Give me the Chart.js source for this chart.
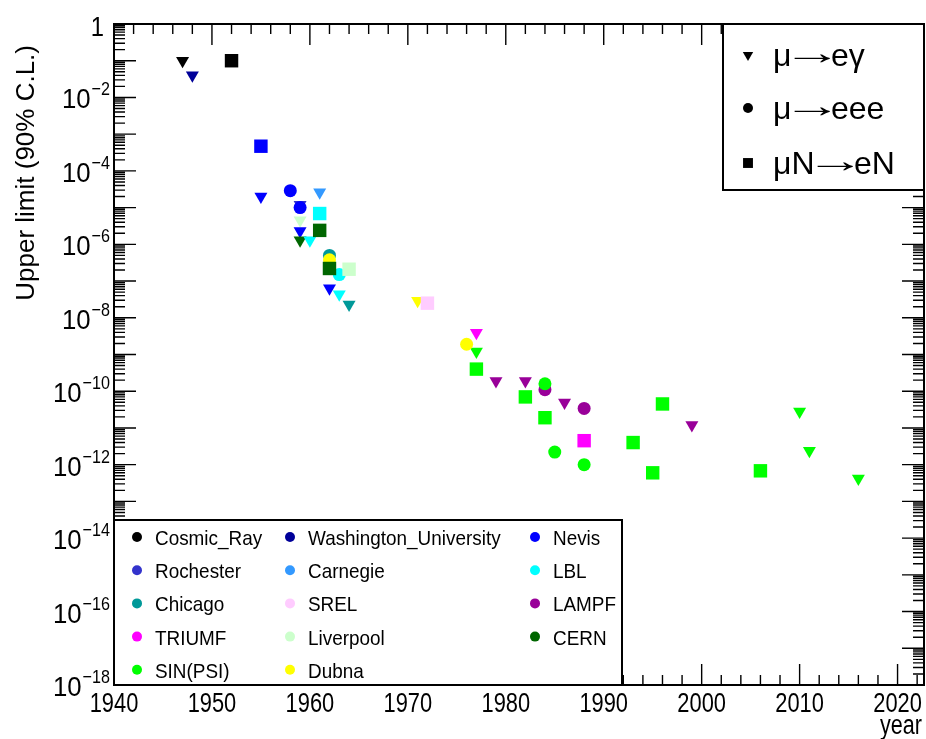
<!DOCTYPE html>
<html>
<head>
<meta charset="utf-8">
<title>Charged lepton flavour violation limits</title>
<script src="https://cdn.jsdelivr.net/npm/chart.js@4.4.1/dist/chart.umd.min.js"></script>
<style>
    html, body { margin: 0; padding: 0; background: #fff; }
    #wrap { width: 926px; height: 739px; position: relative; }
</style>
</head>
<body>
<div id="wrap"><canvas id="chart"></canvas></div>
<script>
// --- Labs (legend order, row by row) ---
const labNames = ['Cosmic_Ray', 'Washington_University', 'Nevis',
                  'Rochester', 'Carnegie', 'LBL',
                  'Chicago', 'SREL', 'LAMPF',
                  'TRIUMF', 'Liverpool', 'CERN',
                  'SIN(PSI)', 'Dubna'];
const labColors = ['#000000', '#000099', '#0000ff',
                   '#3333cc', '#3399ff', '#00ffff',
                   '#009999', '#ffccff', '#990099',
                   '#ff00ff', '#ccffcc', '#006600',
                   '#00ff00', '#ffff00'];

// --- mu -> e gamma (down triangles) ---
const megYears  = [1947, 1948, 1955, 1959, 1959, 1959, 1959, 1960, 1961, 1962, 1963, 1964,
                   1971, 1977, 1977, 1979, 1982, 1986, 1999, 2010, 2011, 2016];
const megLimits = [1.0e-1, 4.0e-2, 2.0e-5, 1.2e-5, 4.5e-6, 2.3e-6, 1.3e-6, 1.3e-6, 2.6e-5, 6.4e-8, 4.4e-8, 2.3e-8,
                   2.9e-8, 3.9e-9, 1.2e-9, 1.9e-10, 1.9e-10, 4.9e-11, 1.2e-11, 2.8e-11, 2.4e-12, 4.2e-13];
const megLabs   = ['Cosmic_Ray', 'Washington_University', 'Nevis', 'Rochester', 'Liverpool', 'Nevis', 'CERN', 'LBL', 'Carnegie', 'Nevis', 'LBL', 'Chicago',
                   'Dubna', 'TRIUMF', 'SIN(PSI)', 'LAMPF', 'LAMPF', 'LAMPF', 'LAMPF', 'SIN(PSI)', 'SIN(PSI)', 'SIN(PSI)'];

// --- mu -> eee (circles) ---
const eeeYears  = [1958, 1959, 1962, 1962, 1963, 1976, 1984, 1984, 1985, 1988, 1988];
const eeeLimits = [2.9e-5, 1.0e-5, 5.0e-7, 3.8e-7, 1.5e-7, 1.9e-9, 1.1e-10, 1.6e-10, 2.2e-12, 3.4e-11, 1.0e-12];
const eeeLabs   = ['Nevis', 'Nevis', 'Chicago', 'Dubna', 'LBL', 'Dubna', 'LAMPF', 'SIN(PSI)', 'SIN(PSI)', 'LAMPF', 'SIN(PSI)'];

// --- mu N -> e N (squares) ---
const convYears  = [1952, 1955, 1961, 1961, 1962, 1964, 1972, 1977, 1982, 1984, 1988, 1993, 1995, 1996, 2006];
const convLimits = [1.0e-1, 4.7e-4, 6.9e-6, 2.4e-6, 2.2e-7, 2.1e-7, 2.5e-8, 4.0e-10, 7.0e-11, 1.9e-11, 4.5e-12, 4.0e-12, 6.0e-13, 4.5e-11, 6.8e-13];
const convLabs   = ['Cosmic_Ray', 'Nevis', 'LBL', 'CERN', 'CERN', 'Liverpool', 'SREL', 'SIN(PSI)', 'SIN(PSI)', 'SIN(PSI)', 'TRIUMF', 'SIN(PSI)', 'SIN(PSI)', 'SIN(PSI)', 'SIN(PSI)'];

// --- axes ---
const xTickYears = [1940, 1950, 1960, 1970, 1980, 1990, 2000, 2010, 2020];
const yLabelExps = [0, -2, -4, -6, -8, -10, -12, -14, -16, -18];
// process legend, split so the arrow can be stretched like ROOT's #rightarrow
const processLabels = [['\u03bc', '\u2192', 'e\u03b3'], ['\u03bc', '\u2192', 'eee'], ['\u03bcN', '\u2192', 'eN']];

const FONT = '"Liberation Sans", Arial, Helvetica, sans-serif';

function toPoints(xs, ys) {
    return xs.map((x, i) => ({ x: x, y: ys[i] }));
}
function toColors(labs) {
    return labs.map(l => labColors[labNames.indexOf(l)]);
}

// text squeezed horizontally, like the ROOT output
function condText(ctx, txt, x, y, size, align, sx) {
    ctx.save();
    ctx.translate(x, y);
    ctx.scale(sx, 1);
    ctx.font = size + 'px ' + FONT;
    ctx.textAlign = align;
    ctx.textBaseline = 'alphabetic';
    ctx.fillStyle = '#000';
    ctx.fillText(txt, 0, 0);
    ctx.restore();
}
function textWidth(ctx, txt, size, sx) {
    ctx.save();
    ctx.font = size + 'px ' + FONT;
    const w = ctx.measureText(txt).width * sx;
    ctx.restore();
    return w;
}
function marker(ctx, style, r, rot, x, y, color) {
    ctx.save();
    ctx.fillStyle = color;
    Chart.helpers.drawPoint(ctx, { pointStyle: style, radius: r, rotation: rot, borderWidth: 0 }, x, y);
    ctx.restore();
}

const rootFrame = {
    id: 'rootFrame',
    beforeDatasetsDraw(chart) {
        const { ctx, chartArea: a, scales: { x, y } } = chart;
        ctx.save();
        ctx.strokeStyle = '#000';
        ctx.lineWidth = 1.4;
        ctx.beginPath();
        // year ticks, every 2 years
        for (let yr = 1940; yr <= x.max; yr += 2) {
            const px = x.getPixelForValue(yr);
            const len = yr % 10 === 0 ? 21 : 10;
            ctx.moveTo(px, a.top); ctx.lineTo(px, a.top + len);
            ctx.moveTo(px, a.bottom); ctx.lineTo(px, a.bottom - len);
        }
        // log ticks on both sides
        for (let e = -18; e < 0; e++) {
            for (let m = 1; m < 10; m++) {
                const py = y.getPixelForValue(m * Math.pow(10, e));
                const len = m === 1 ? 22 : 11;
                ctx.moveTo(a.left, py); ctx.lineTo(a.left + len, py);
                ctx.moveTo(a.right, py); ctx.lineTo(a.right - len, py);
            }
        }
        ctx.stroke();
        ctx.lineWidth = 2;
        ctx.strokeRect(a.left, a.top, a.right - a.left, a.bottom - a.top);
        ctx.restore();
    },
    afterDatasetsDraw(chart) {
        const { ctx, chartArea: a, scales: { x, y } } = chart;
        ctx.save();
        ctx.lineWidth = 2;
        ctx.strokeStyle = '#000';

        // process legend (top right)
        const pw = 201, ph = 166;
        const pl = a.right - pw, pt = a.top;
        ctx.fillStyle = '#fff';
        ctx.fillRect(pl, pt, pw, ph);
        ctx.strokeRect(pl, pt, pw, ph);
        const pRows = [31, 84, 139];
        marker(ctx, 'triangle', 6, 180, pl + 25, pt + pRows[0], '#000');
        marker(ctx, 'circle', 5, 0, pl + 25, pt + pRows[1], '#000');
        marker(ctx, 'rect', 7, 0, pl + 25, pt + pRows[2], '#000');
        processLabels.forEach((parts, i) => {
            const by = pt + pRows[i] + 11;
            let tx = pl + 50;
            condText(ctx, parts[0], tx, by, 32, 'left', 1);
            tx += textWidth(ctx, parts[0], 32, 1);
            // arrow glyph has wide side bearings: pull it in
            condText(ctx, parts[1], tx - 9, by - 2, 34, 'left', 1.75);
            tx += textWidth(ctx, parts[1], 34, 1.75) - 20;
            condText(ctx, parts[2], tx, by, 32, 'left', 1);
        });

        // lab legend (bottom left)
        const lw = 508, lh = 165;
        const ll = a.left, lt = a.bottom - lh;
        ctx.fillStyle = '#fff';
        ctx.fillRect(ll, lt, lw, lh);
        ctx.strokeRect(ll, lt, lw, lh);
        const colX = [23, 176, 421];
        labNames.forEach((name, i) => {
            const cx = ll + colX[i % 3];
            const cy = lt + 17 + Math.floor(i / 3) * 33.2;
            marker(ctx, 'circle', 5, 0, cx, cy, labColors[i]);
            condText(ctx, name, cx + 18, cy + 8, 21, 'left', 0.9);
        });

        // year labels
        xTickYears.forEach(yr => {
            condText(ctx, String(yr), x.getPixelForValue(yr), a.bottom + 27, 28, 'center', 0.78);
        });
        condText(ctx, 'year', a.right - 2, a.bottom + 49, 27, 'right', 0.8);

        // limit labels with superscript exponents
        const right = a.left - 4;
        yLabelExps.forEach(e => {
            const py = y.getPixelForValue(Math.pow(10, e));
            if (e === 0) {
                condText(ctx, '1', right - 6, py + 12, 28, 'right', 0.85);
                return;
            }
            const exp = '\u2212' + (-e);
            const ew = textWidth(ctx, exp, 19, 0.85);
            condText(ctx, exp, right, py - 2, 19, 'right', 0.85);
            condText(ctx, '10', right - ew - 1, py + 11, 28, 'right', 0.92);
        });

        // y title, aligned to the top of the axis
        ctx.save();
        ctx.translate(34, a.top + 21);
        ctx.rotate(-Math.PI / 2);
        ctx.font = '26px ' + FONT;
        ctx.textAlign = 'right';
        ctx.fillStyle = '#000';
        ctx.fillText('Upper limit (90% C.L.)', 0, 0);
        ctx.restore();

        ctx.restore();
    }
};

const canvas = document.getElementById('chart');
new Chart(canvas.getContext('2d'), {
    type: 'scatter',
    data: {
        datasets: [
            {
                label: 'muN-eN',
                data: toPoints(convYears, convLimits),
                pointStyle: 'rect',
                pointRadius: 9.5,
                pointBackgroundColor: toColors(convLabs),
                pointBorderWidth: 0,
                order: 0
            },
            {
                label: 'mu-eee',
                data: toPoints(eeeYears, eeeLimits),
                pointStyle: 'circle',
                pointRadius: 6.5,
                pointBackgroundColor: toColors(eeeLabs),
                pointBorderWidth: 0,
                order: 1
            },
            {
                label: 'mu-egamma',
                data: toPoints(megYears, megLimits),
                pointStyle: 'triangle',
                pointRotation: 180,
                pointRadius: 7.5,
                pointBackgroundColor: toColors(megLabs),
                pointBorderWidth: 0,
                order: 2
            }
        ]
    },
    options: {
        responsive: true,
        maintainAspectRatio: false,
        animation: false,
        layout: { autoPadding: false, padding: { left: 114, right: 2, top: 24, bottom: 54 } },
        plugins: {
            legend: { display: false },
            tooltip: { enabled: false }
        },
        scales: {
            x: {
                type: 'linear',
                min: 1940,
                max: 2022.7,
                display: false
            },
            y: {
                type: 'logarithmic',
                min: 1e-18,
                max: 1,
                display: false
            }
        }
    },
    plugins: [rootFrame]
});
</script>
</body>
</html>
